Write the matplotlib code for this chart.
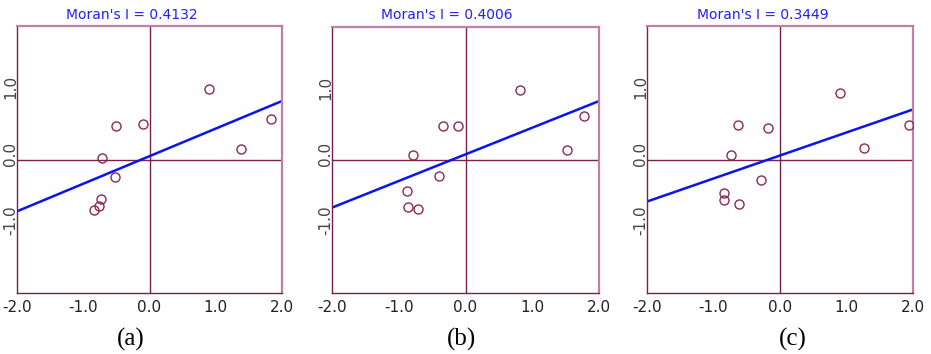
import matplotlib
matplotlib.use("Agg")
import matplotlib.pyplot as plt
import matplotlib.transforms as mtransforms
import numpy as np

panels = ["(a)", "(b)", "(c)"]
moran_i = [0.4132, 0.4006, 0.3449]
intercepts = [0.05, 0.085, 0.06]

x_a = [0.90, 1.83, 1.385, -0.51, -0.096, -0.715, -0.524, -0.725, -0.766, -0.84]
y_a = [1.05, 0.60, 0.155, 0.50, 0.53, 0.015, -0.26, -0.59, -0.69, -0.76]
x_b = [0.81, 1.77, 1.52, -0.335, -0.115, -0.79, -0.39, -0.876, -0.866, -0.716]
y_b = [1.06, 0.66, 0.155, 0.51, 0.51, 0.075, -0.235, -0.47, -0.71, -0.74]
x_c = [0.907, 1.935, 1.27, -0.63, -0.18, -0.737, -0.286, -0.84, -0.84, -0.617]
y_c = [1.0, 0.51, 0.17, 0.51, 0.47, 0.06, -0.30, -0.50, -0.61, -0.66]

xs = [x_a, x_b, x_c]
ys = [y_a, y_b, y_c]

xticks = [-2.0, -1.0, 0.0, 1.0, 2.0]
yticks = [-1.0, 0.0, 1.0]

W, H = 931, 354
fig = plt.figure(figsize=(W / 100, H / 100), dpi=100)

# axes boxes in pixels: left, right, top, bottom
boxes = [(17, 282, 26, 293), (332, 599, 27, 293), (647, 913, 26, 293)]
title_cx = [132, 447, 763]
caption_cx = [131, 462, 793]

maroon = "#7a1f4a"
pink = "#c27fa5"

for i in range(3):
    l, r, t, b = boxes[i]
    ax = fig.add_axes([l / W, 1 - b / H, (r - l) / W, (b - t) / H])
    ax.set_xlim(-2, 2)
    ax.set_ylim(-2, 2)
    ax.axhline(0, color=maroon, lw=1.0, zorder=1)
    ax.axvline(0, color=maroon, lw=1.0, zorder=1)
    lx = np.array([-2.0, 2.0])
    ax.plot(lx, moran_i[i] * lx + intercepts[i], color="#0a14f0", lw=1.8, zorder=2)
    ax.plot(xs[i], ys[i], linestyle="none", marker="o", markersize=6.5,
            markerfacecolor="none", markeredgecolor="#8a2a55", markeredgewidth=1.0, zorder=3)
    ax.set_xticks(xticks)
    ax.set_xticklabels([f"{v:.1f}" for v in xticks])
    ax.set_yticks(yticks)
    ax.set_yticklabels([f"{v:.1f}" for v in yticks], rotation=90, va="center")
    ax.tick_params(axis="both", length=0, labelsize=11, colors="#222222")
    ax.tick_params(axis="x", pad=5)
    ax.tick_params(axis="y", pad=-1, labelcolor="#444444")
    off = mtransforms.ScaledTranslation(0, 6 / 100, fig.dpi_scale_trans)
    for lab in ax.get_yticklabels():
        lab.set_transform(lab.get_transform() + off)
    for side in ["left", "bottom"]:
        ax.spines[side].set_color(maroon)
        ax.spines[side].set_linewidth(1.0)
    for side in ["right", "top"]:
        ax.spines[side].set_color(pink)
        ax.spines[side].set_linewidth(1.6)
    fig.text(title_cx[i] / W, 1 - 15 / H, f"Moran's I = {moran_i[i]:.4f}",
             ha="center", va="center", color="#2020ff", fontsize=10,
             family="DejaVu Sans")
    fig.text(caption_cx[i] / W, 1 - 339 / H, panels[i], ha="center", va="center",
             color="black", fontsize=18, family="Liberation Serif")

fig.savefig("out.png", dpi=100)
